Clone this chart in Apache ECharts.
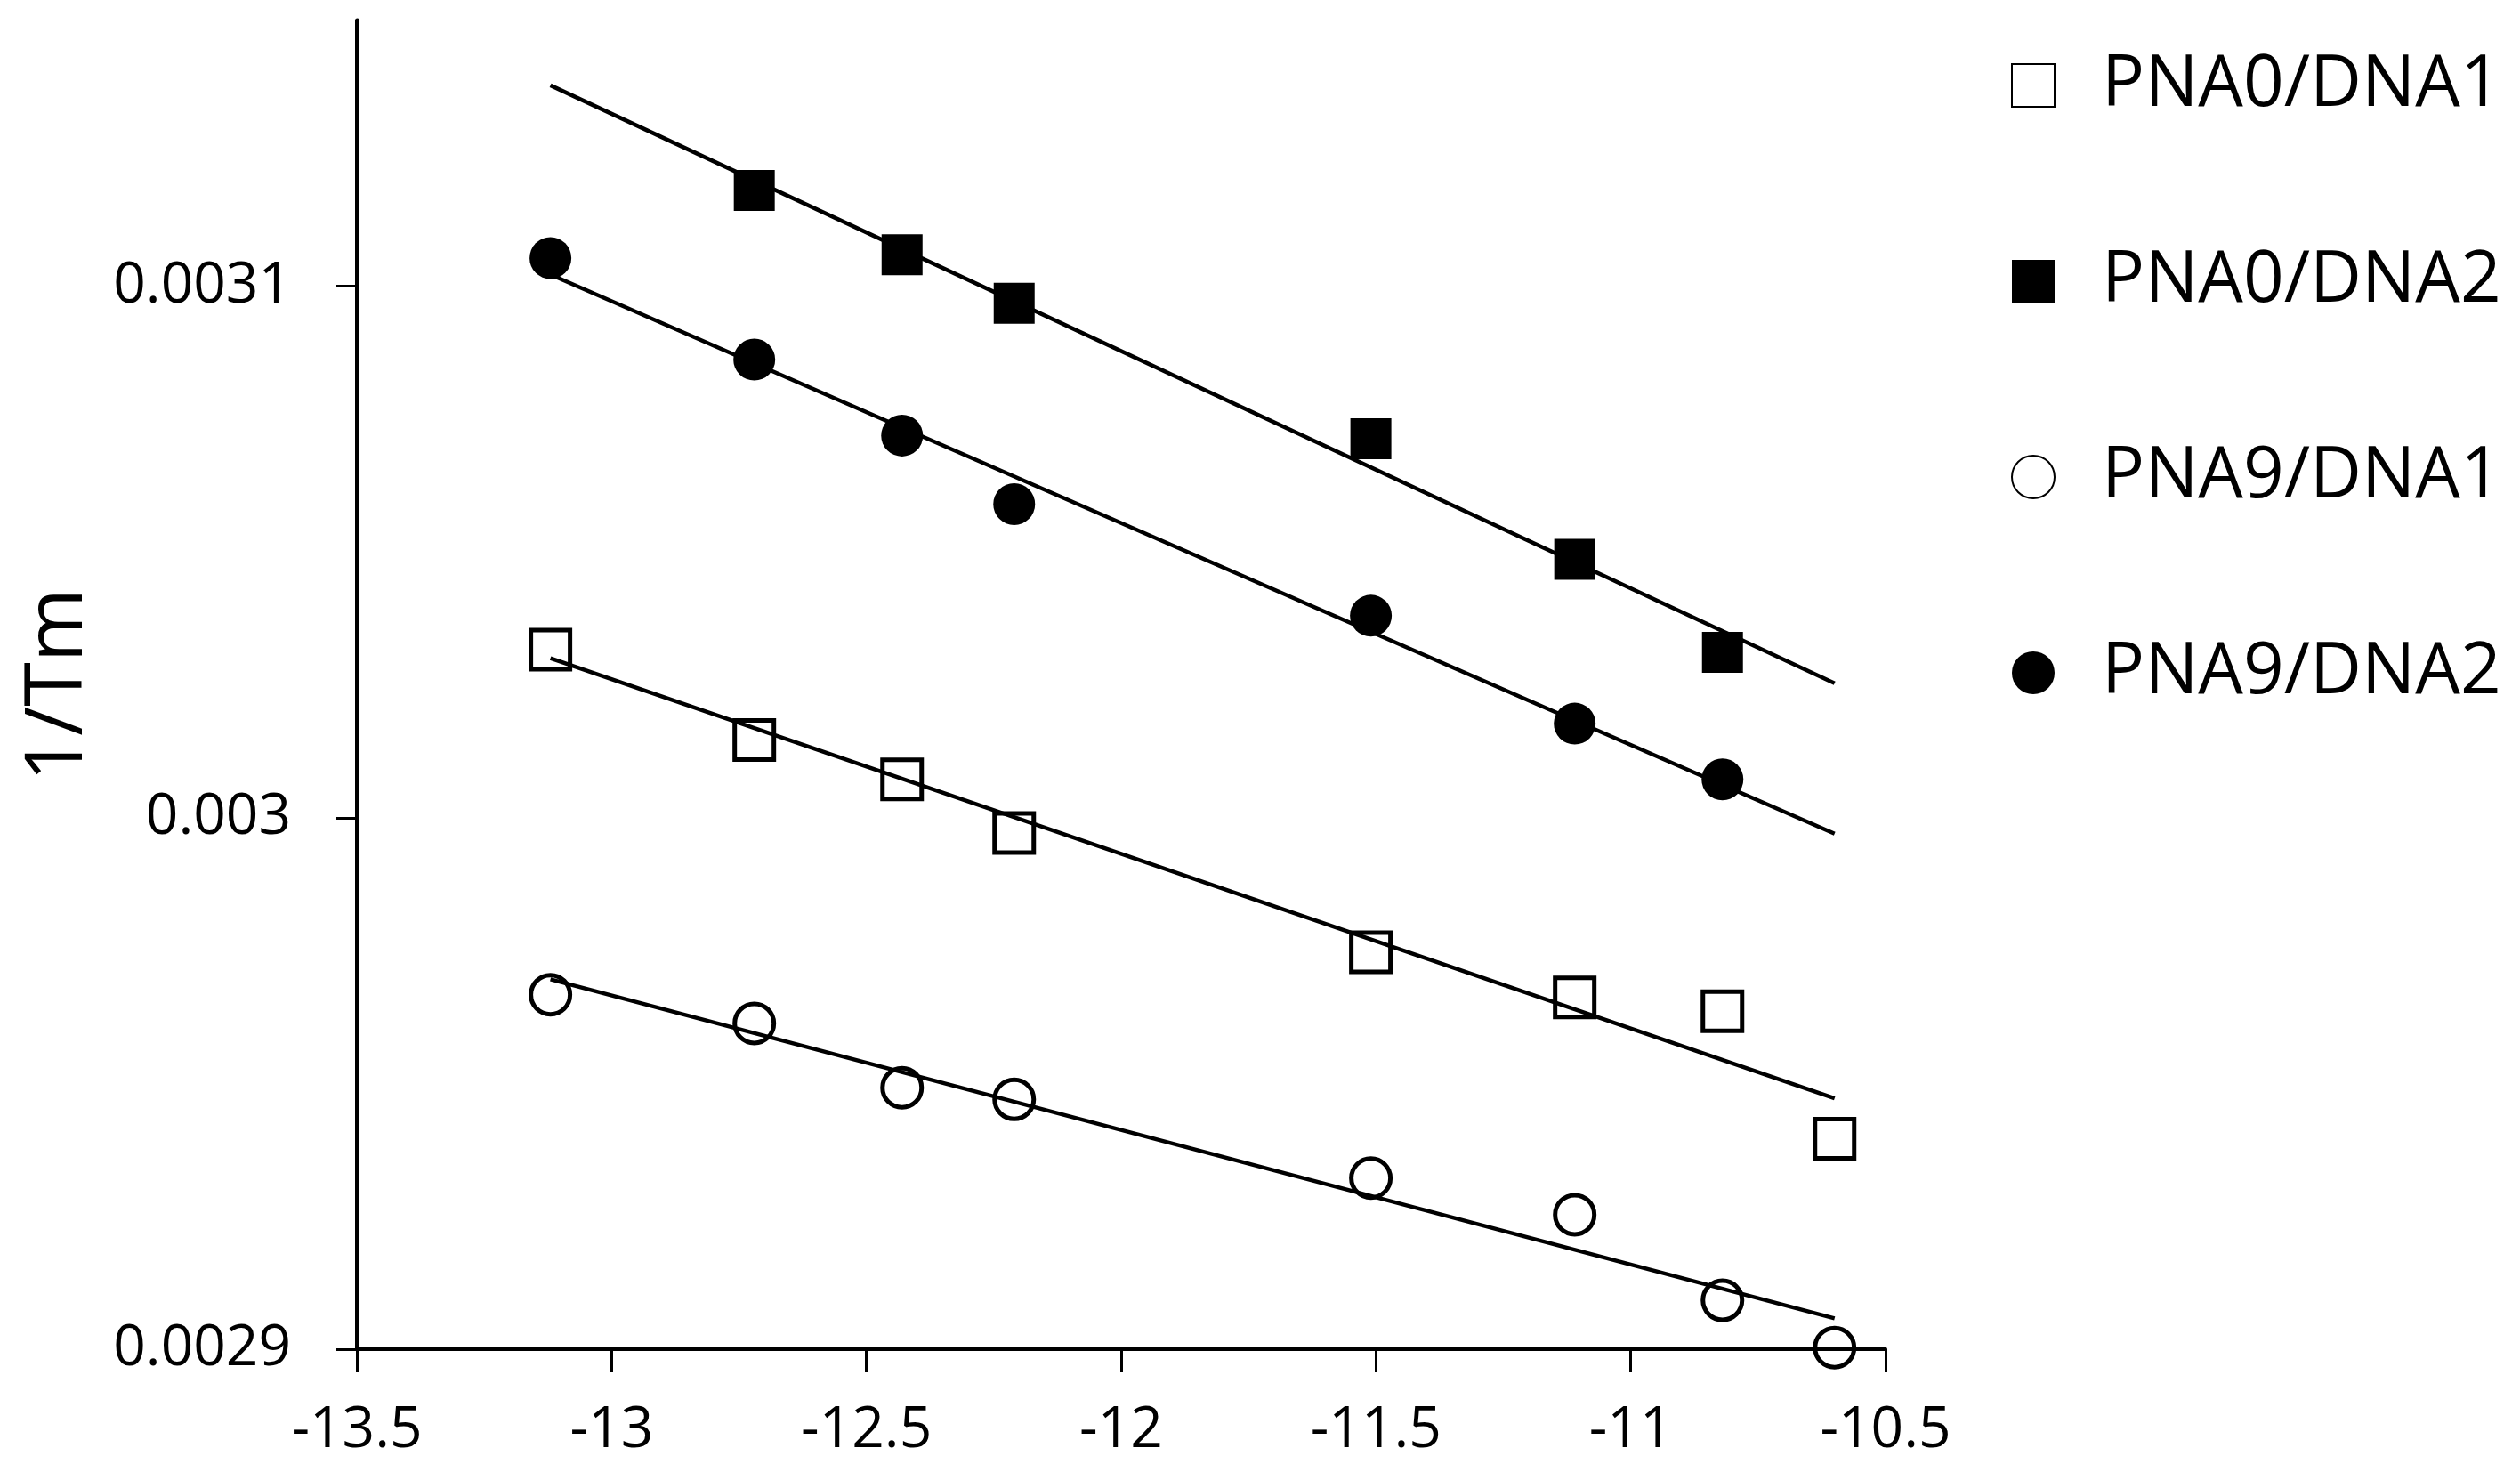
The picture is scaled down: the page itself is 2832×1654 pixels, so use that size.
<!DOCTYPE html>
<html>
<head>
<meta charset="utf-8">
<script src="https://cdn.jsdelivr.net/npm/echarts@6/dist/echarts.min.js"></script>
<style>
    html, body { margin: 0; padding: 0; background: #fff; }
    #chart { width: 2832px; height: 1654px; }
</style>
</head>
<body>
<div id="chart"></div>
<script>
// x = ln(concentration), same for every series (null = no point)
const xValues = [-13.12, -12.72, -12.43, -12.21, -11.51, -11.11, -10.82, -10.6];

const pna0dna1 = [0.0030316, 0.0030146, 0.0030072, 0.0029971, 0.0029747, 0.0029662, 0.0029636, 0.0029396];
const pna0dna2 = [null, 0.003118, 0.0031059, 0.0030968, 0.0030713, 0.0030486, 0.0030311, null];
const pna9dna1 = [0.0029667, 0.0029613, 0.0029492, 0.002947, 0.0029322, 0.0029253, 0.0029092, 0.0029003];
const pna9dna2 = [0.0031053, 0.0030862, 0.0030719, 0.003059, 0.003038, 0.0030177, 0.0030072, null];

// linear fits, start and end
const trendX = [-13.12, -10.6];
const trend0dna1 = [0.00303, 0.0029472];
const trend0dna2 = [0.0031378, 0.0030253];
const trend9dna1 = [0.0029696, 0.0029058];
const trend9dna2 = [0.0031022, 0.002997];

const xTicks = [-13.5, -13, -12.5, -12, -11.5, -11, -10.5];
const yTicks = [0.0029, 0.003, 0.0031];

const FONT = 'Open Sans';

function pairs(xs, ys) {
    const out = [];
    xs.forEach((x, i) => {
        if (ys[i] !== null) out.push([x, ys[i]]);
    });
    return out;
}

function trend(ys) {
    return {
        type: 'line',
        data: pairs(trendX, ys),
        showSymbol: false,
        silent: true,
        lineStyle: { color: '#000', width: 4.5, opacity: 1 },
        z: 3
    };
}

const chart = echarts.init(document.getElementById('chart'));

chart.setOption({
    animation: false,
    backgroundColor: '#fff',
    grid: { left: 401, right: 713, top: 23, bottom: 138 },
    legend: {
        orient: 'vertical',
        left: 2255,
        top: 51,
        itemGap: 140,
        itemWidth: 48,
        itemHeight: 48,
        data: ['PNA0/DNA1', 'PNA0/DNA2', 'PNA9/DNA1', 'PNA9/DNA2'],
        textStyle: {
            fontFamily: FONT,
            fontSize: 80,
            lineHeight: 80,
            color: '#000',
            padding: [0, 0, 0, 48]
        }
    },
    xAxis: {
        type: 'value',
        min: -13.5,
        max: -10.5,
        interval: 0.5,
        splitLine: { show: false },
        axisLine: { onZero: false, lineStyle: { color: '#000', width: 4 } },
        axisTick: { length: 26, lineStyle: { color: '#000', width: 3 }, customValues: xTicks },
        axisLabel: { fontFamily: FONT, fontSize: 64, color: '#000', margin: 60, customValues: xTicks }
    },
    yAxis: {
        type: 'value',
        min: 0.0029,
        max: 0.00315,
        name: '1/Tm',
        nameLocation: 'middle',
        nameGap: 290,
        nameTextStyle: { fontFamily: FONT, fontSize: 90, color: '#000' },
        splitLine: { show: false },
        axisLine: { show: true, onZero: false, lineStyle: { color: '#000', width: 5 } },
        axisTick: { show: true, length: 23, lineStyle: { color: '#000', width: 3 }, customValues: yTicks },
        axisLabel: { fontFamily: FONT, fontSize: 64, color: '#000', margin: 74, customValues: yTicks }
    },
    series: [
        trend(trend0dna1),
        trend(trend0dna2),
        trend(trend9dna1),
        trend(trend9dna2),
        {
            name: 'PNA0/DNA1',
            type: 'scatter',
            symbol: 'rect',
            symbolSize: 44,
            data: pairs(xValues, pna0dna1),
            itemStyle: { color: 'rgba(255,255,255,0)', borderColor: '#000', borderWidth: 5, opacity: 1 },
            z: 2
        },
        {
            name: 'PNA0/DNA2',
            type: 'scatter',
            symbol: 'rect',
            symbolSize: 46,
            data: pairs(xValues, pna0dna2),
            itemStyle: { color: '#000', opacity: 1 },
            z: 4
        },
        {
            name: 'PNA9/DNA1',
            type: 'scatter',
            symbol: 'circle',
            symbolSize: 44,
            data: pairs(xValues, pna9dna1),
            itemStyle: { color: 'rgba(255,255,255,0)', borderColor: '#000', borderWidth: 5, opacity: 1 },
            z: 2
        },
        {
            name: 'PNA9/DNA2',
            type: 'scatter',
            symbol: 'circle',
            symbolSize: 47,
            data: pairs(xValues, pna9dna2),
            itemStyle: { color: '#000', opacity: 1 },
            z: 4
        }
    ]
});

window.addEventListener('resize', () => chart.resize());
</script>
</body>
</html>
